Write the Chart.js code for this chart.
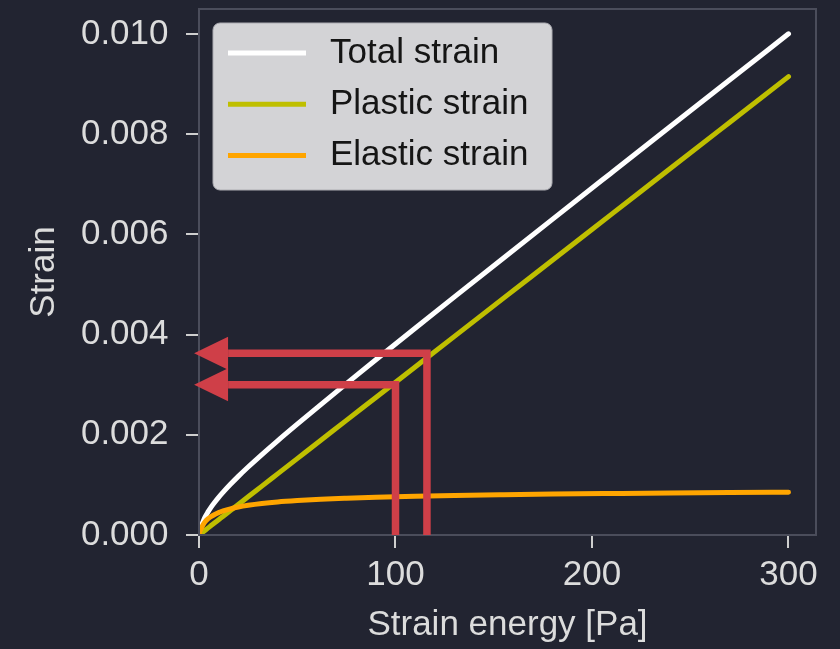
<!DOCTYPE html>
<html>
<head>
<meta charset="utf-8">
<title>Strain vs strain energy</title>
<script src="https://cdn.jsdelivr.net/npm/chart.js@4.4.1/dist/chart.umd.min.js"></script>
<style>
  html, body { margin: 0; padding: 0; background: #222431; }
  canvas { display: block; }
</style>
</head>
<body>
<canvas id="strainChart" width="840" height="649"></canvas>
<script>
// Strain energy samples [Pa]
const energy = [0, 0.3, 1, 2, 3, 4.5, 6, 8, 10, 12.3, 16, 20, 25, 32, 40, 50, 62, 75, 90, 110, 130, 155, 180, 210, 240, 270, 300];
// Strain components at each energy level
const totalStrain = [0, 0.000069, 0.000151, 0.000261, 0.000352, 0.000457, 0.000548, 0.000654, 0.000752, 0.000855,
  0.001011, 0.00117, 0.001357, 0.001606, 0.00188, 0.002212, 0.002604, 0.003021, 0.003497, 0.004127,
  0.004753, 0.005531, 0.006306, 0.007233, 0.008159, 0.009083, 0.010005];
const plasticStrain = [0, 0.0000092, 0.0000305, 0.000061, 0.0000915, 0.000137, 0.000183, 0.000244, 0.000305, 0.000375,
  0.000488, 0.00061, 0.000763, 0.000976, 0.00122, 0.001525, 0.001891, 0.002288, 0.002745, 0.003355,
  0.003965, 0.004728, 0.00549, 0.006405, 0.00732, 0.008235, 0.00915];
const elasticStrain = [0, 0.00006, 0.00012, 0.0002, 0.00026, 0.00032, 0.000365, 0.00041, 0.000447, 0.00048,
  0.000523, 0.00056, 0.000594, 0.00063, 0.00066, 0.000687, 0.000713, 0.000733, 0.000752, 0.000772,
  0.000788, 0.000803, 0.000816, 0.000828, 0.000839, 0.000848, 0.000855];
const seriesLabels = ['Total strain', 'Plastic strain', 'Elastic strain'];

const xTicks = [0, 100, 200, 300];
const yTicks = [0, 0.002, 0.004, 0.006, 0.008, 0.010];

// Read-off guides: energy level -> strain level, arrow tip just left of the axis
const guideEnergy = [100, 116];
const guideStrain = [0.0030, 0.00363];
const guideTip = -2.5;

const FONT = 'Liberation Sans, Arial, sans-serif';
const TEXT = '#dcdcdc';
const colors = ['#ffffff', '#bfbf00', '#ffa500'];

const toPoints = ys => energy.map((e, i) => ({ x: e, y: ys[i] }));

const frameGuidesLegend = {
  id: 'frameGuidesLegend',
  afterDatasetsDraw(chart) {
    const { ctx, chartArea: a, scales: { x, y } } = chart;
    ctx.save();
    // axes frame
    ctx.strokeStyle = '#4b4d5b';
    ctx.lineWidth = 2;
    ctx.strokeRect(a.left, a.top, a.right - a.left, a.bottom - a.top);

    // red read-off arrows
    ctx.strokeStyle = '#cf3f48';
    ctx.fillStyle = '#cf3f48';
    ctx.lineWidth = 7.5;
    ctx.lineJoin = 'miter';
    ctx.lineCap = 'butt';
    const headLen = 34, headHalf = 16.5;
    const tip = x.getPixelForValue(guideTip);
    guideEnergy.forEach((e, i) => {
      const px = x.getPixelForValue(e);
      const py = y.getPixelForValue(guideStrain[i]);
      ctx.beginPath();
      ctx.moveTo(px, y.getPixelForValue(0));
      ctx.lineTo(px, py);
      ctx.lineTo(tip + headLen, py);
      ctx.stroke();
      ctx.beginPath();
      ctx.moveTo(tip, py);
      ctx.lineTo(tip + headLen, py - headHalf);
      ctx.lineTo(tip + headLen, py + headHalf);
      ctx.closePath();
      ctx.fill();
    });
    ctx.restore();
  },
  afterDraw(chart) {
    const { ctx, chartArea: a } = chart;
    ctx.save();
    const bx = a.left + 14, by = a.top + 14, bw = 339, bh = 167, r = 7;
    ctx.beginPath();
    ctx.roundRect(bx, by, bw, bh, r);
    ctx.fillStyle = 'rgb(211,211,214)';
    ctx.fill();
    ctx.strokeStyle = 'rgb(172,172,178)';
    ctx.lineWidth = 1;
    ctx.stroke();
    ctx.font = '35px ' + FONT;
    ctx.textBaseline = 'middle';
    ctx.textAlign = 'left';
    seriesLabels.forEach((label, i) => {
      const cy = by + 30 + i * 51.2;
      ctx.strokeStyle = colors[i];
      ctx.lineWidth = 5;
      ctx.lineCap = 'butt';
      ctx.beginPath();
      ctx.moveTo(bx + 15, cy);
      ctx.lineTo(bx + 93, cy);
      ctx.stroke();
      ctx.fillStyle = '#151515';
      ctx.fillText(label, bx + 117, cy);
    });
    ctx.restore();
  }
};

const lineStyle = (color, order) => ({
  borderColor: color,
  backgroundColor: color,
  borderWidth: 5,
  pointRadius: 0,
  fill: false,
  cubicInterpolationMode: 'monotone',
  borderCapStyle: 'round',
  borderJoinStyle: 'round',
  order
});

new Chart(document.getElementById('strainChart'), {
  type: 'line',
  data: {
    datasets: [
      { label: seriesLabels[0], data: toPoints(totalStrain), ...lineStyle(colors[0], 2) },
      { label: seriesLabels[1], data: toPoints(plasticStrain), ...lineStyle(colors[1], 1) },
      { label: seriesLabels[2], data: toPoints(elasticStrain), ...lineStyle(colors[2], 0) }
    ]
  },
  options: {
    responsive: false,
    devicePixelRatio: 1,
    animation: false,
    layout: { padding: { top: 9, right: 24, left: 0, bottom: 0 } },
    plugins: { legend: { display: false }, tooltip: { enabled: false } },
    scales: {
      x: {
        type: 'linear',
        min: 0,
        max: 314,
        afterBuildTicks(s) { s.ticks = xTicks.map(v => ({ value: v })); },
        afterFit(s) { s.height = 114; s.paddingLeft = 0; s.paddingRight = 0; },
        ticks: {
          color: TEXT,
          font: { family: FONT, size: 35 },
          padding: 6,
          autoSkip: false,
          maxRotation: 0,
          callback: v => String(v)
        },
        grid: {
          drawOnChartArea: false,
          drawTicks: true,
          tickLength: 13,
          tickColor: '#cfcfcf',
          lineWidth: 2,
          color: 'rgba(0,0,0,0)'
        },
        border: { display: false },
        title: {
          display: true,
          text: 'Strain energy [Pa]',
          color: TEXT,
          font: { family: FONT, size: 35 },
          padding: { top: 0, bottom: 3 }
        }
      },
      y: {
        type: 'linear',
        min: 0,
        max: 0.0105,
        afterBuildTicks(s) { s.ticks = yTicks.map(v => ({ value: v })); },
        afterFit(s) { s.width = 199; s.paddingTop = 0; s.paddingBottom = 0; },
        ticks: {
          color: TEXT,
          font: { family: FONT, size: 35 },
          padding: 17.5,
          autoSkip: false,
          callback: v => Number(v).toFixed(3)
        },
        grid: {
          drawOnChartArea: false,
          drawTicks: true,
          tickLength: 13,
          tickColor: '#cfcfcf',
          lineWidth: 2,
          color: 'rgba(0,0,0,0)'
        },
        border: { display: false },
        title: {
          display: true,
          text: 'Strain',
          color: TEXT,
          font: { family: FONT, size: 35 },
          padding: { top: 23.5, bottom: 0 }
        }
      }
    }
  },
  plugins: [frameGuidesLegend]
});
</script>
</body>
</html>
